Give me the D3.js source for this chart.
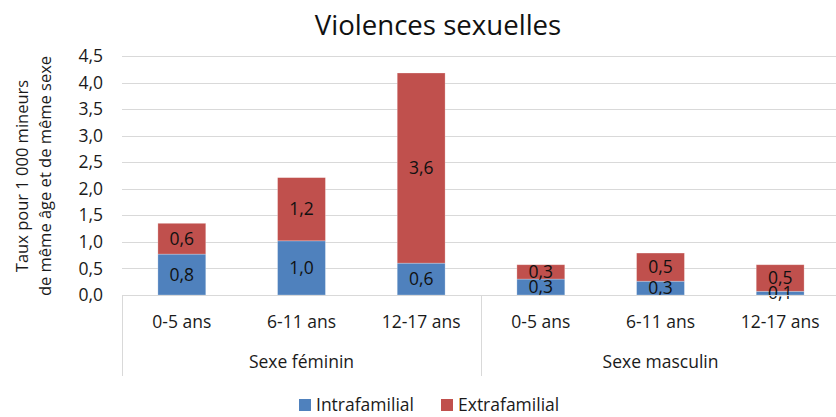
<!DOCTYPE html>
<html><head><meta charset="utf-8">
<script src="https://cdn.jsdelivr.net/npm/d3@7"></script>
<style>html,body{margin:0;padding:0;background:#fff;} svg{display:block;font-family:"Open Sans", "Noto Sans", sans-serif;}</style>
</head><body>
<svg id="c" width="836" height="417"></svg>
<script>
const title = "Violences sexuelles";
const yTitle = ["Taux pour 1 000 mineurs", "de même âge et de même sexe"];
const groups = ["Sexe féminin", "Sexe masculin"];
const ages = ["0-5 ans", "6-11 ans", "12-17 ans"];
const seriesNames = ["Intrafamilial", "Extrafamilial"];
const intrafamilial = [0.77, 1.02, 0.60, 0.30, 0.26, 0.07];
const extrafamilial = [0.58, 1.19, 3.58, 0.27, 0.53, 0.50];
const yTicks = [0, 0.5, 1, 1.5, 2, 2.5, 3, 3.5, 4, 4.5];
const colors = ["#4F81BD", "#C0504D"];

const FS = 17.5;
const svg = d3.select("#c");
const cats = [];
groups.forEach(g => ages.forEach(a => cats.push(g + "|" + a)));
const rows = cats.map((c, i) => ({cat: c, Intrafamilial: intrafamilial[i], Extrafamilial: extrafamilial[i]}));

const x = d3.scaleBand().domain(cats).range([122, 840]).paddingInner(0.6).paddingOuter(0.3);
const y = d3.scaleLinear().domain([0, 4.5]).range([295, 56]);
const fr = v => v.toFixed(1).replace(".", ",");

// gridlines
svg.append("g").selectAll("line").data(yTicks).join("line")
  .attr("x1", 122).attr("x2", 840)
  .attr("y1", d => Math.round(y(d)) + 0.5).attr("y2", d => Math.round(y(d)) + 0.5)
  .attr("stroke", "#D9D9D9").attr("stroke-width", 1);

// y tick labels
svg.append("g").selectAll("text").data(yTicks).join("text")
  .attr("x", 103).attr("y", d => y(d)).attr("dy", "0.35em")
  .attr("text-anchor", "end").attr("font-size", FS).attr("fill", "#1a1a1a")
  .text(d => fr(d));

// y title
const yt = svg.append("text").attr("transform", "translate(0,176) rotate(-90)")
  .attr("text-anchor", "middle").attr("font-size", 16.5).attr("fill", "#1a1a1a");
yt.append("tspan").attr("x", 0).attr("y", 28).text(yTitle[0]);
yt.append("tspan").attr("x", 0).attr("y", 51).text(yTitle[1]);

// stacked bars
const stack = d3.stack().keys(seriesNames)(rows);
const layers = svg.append("g").selectAll("g").data(stack).join("g")
  .attr("fill", (d, i) => colors[i]);
layers.selectAll("rect").data(d => d).join("rect")
  .attr("x", d => x(d.data.cat)).attr("width", x.bandwidth())
  .attr("y", d => y(d[1])).attr("height", d => y(d[0]) - y(d[1]))
  .attr("stroke", "#fff").attr("stroke-opacity", 0.35).attr("stroke-width", 0.75);

// data labels
const lab = svg.append("g");
stack.forEach(layer => {
  lab.selectAll(null).data(layer).join("text")
    .attr("x", d => x(d.data.cat) + x.bandwidth() / 2)
    .attr("y", d => (y(d[0]) + y(d[1])) / 2).attr("dy", "0.35em")
    .attr("text-anchor", "middle").attr("font-size", FS).attr("fill", "#111")
    .text(d => fr(d[1] - d[0]));
});

// category axis
const step = x.step();
const left = 122;
svg.append("line").attr("x1", left).attr("x2", 840).attr("y1", 295.5).attr("y2", 295.5)
  .attr("stroke", "#D9D9D9");
[0, 1, 2].forEach(k => {
  svg.append("line").attr("x1", left + k * 3 * step + 0.5).attr("x2", left + k * 3 * step + 0.5)
    .attr("y1", 295).attr("y2", 376).attr("stroke", "#D9D9D9");
});
svg.append("g").selectAll("text").data(cats).join("text")
  .attr("x", d => x(d) + x.bandwidth() / 2).attr("y", 322).attr("dy", "0.35em")
  .attr("text-anchor", "middle").attr("font-size", FS).attr("fill", "#1a1a1a")
  .text(d => d.split("|")[1]);
svg.append("g").selectAll("text").data(groups).join("text")
  .attr("x", (d, i) => left + (i * 3 + 1.5) * step).attr("y", 362).attr("dy", "0.35em")
  .attr("text-anchor", "middle").attr("font-size", FS).attr("fill", "#1a1a1a")
  .text(d => d);

// title
svg.append("text").attr("x", 438).attr("y", 35).attr("text-anchor", "middle")
  .attr("font-size", 27.6).attr("fill", "#111").text(title);

// legend
const legX = [299, 441];
seriesNames.forEach((s, i) => {
  svg.append("rect").attr("x", legX[i]).attr("y", 399).attr("width", 12).attr("height", 12).attr("fill", colors[i]);
  svg.append("text").attr("x", legX[i] + 17).attr("y", 405).attr("dy", "0.35em")
    .attr("font-size", FS).attr("fill", "#1a1a1a").text(s);
});
</script>
</body></html>
